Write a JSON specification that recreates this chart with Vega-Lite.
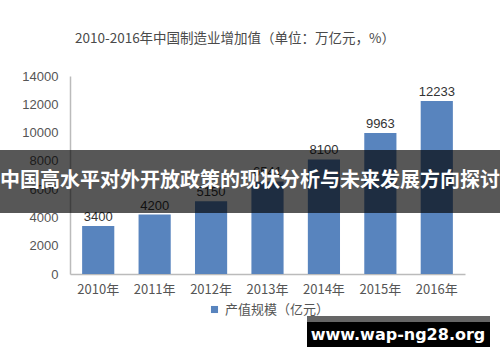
{
  "$schema": "https://vega.github.io/schema/vega-lite/v6.json",
  "width": 395,
  "height": 198,
  "autosize": {"type": "none"},
  "padding": {"left": 70, "top": 76, "right": 35, "bottom": 88},
  "background": "white",
  "config": {
    "view": {"stroke": null},
    "font": "Noto Sans CJK SC"
  },
  "title": {
    "text": "2010-2016年中国制造业增加值（单位：万亿元，%）",
    "anchor": "start",
    "frame": "group",
    "dx": 5,
    "offset": 25,
    "fontSize": 13.5,
    "fontWeight": "normal",
    "color": "#4a4a4a",
    "font": "Noto Sans CJK SC"
  },
  "resolve": {"scale": {"x": "independent", "y": "independent"}},
  "layer": [
    {
      "data": {
        "values": [
          {"year": "2010年", "value": 3400, "series": "产值规模（亿元）"},
          {"year": "2011年", "value": 4200, "series": "产值规模（亿元）"},
          {"year": "2012年", "value": 5150, "series": "产值规模（亿元）"},
          {"year": "2013年", "value": 6541, "series": "产值规模（亿元）"},
          {"year": "2014年", "value": 8100, "series": "产值规模（亿元）"},
          {"year": "2015年", "value": 9963, "series": "产值规模（亿元）"},
          {"year": "2016年", "value": 12233, "series": "产值规模（亿元）"}
        ]
      },
      "encoding": {
        "x": {
          "field": "year", "type": "nominal", "sort": null,
          "scale": {"paddingInner": 0.43, "paddingOuter": 0.215},
          "axis": {
            "title": null, "labelAngle": 0, "ticks": false,
            "domainColor": "#bbbbbb", "domainWidth": 1.5,
            "labelFontSize": 13, "labelColor": "#555555", "labelPadding": 9
          }
        },
        "y": {
          "field": "value", "type": "quantitative",
          "scale": {"domain": [0, 14000], "nice": false},
          "axis": {
            "title": null, "grid": false, "ticks": false,
            "values": [0, 2000, 4000, 6000, 8000, 10000, 12000, 14000],
            "format": "d",
            "domainColor": "#bbbbbb", "domainWidth": 1.5,
            "labelFontSize": 13, "labelColor": "#555555", "labelPadding": 12,
            "labelFont": "Liberation Sans"
          }
        }
      },
      "layer": [
        {
          "mark": {"type": "bar"},
          "encoding": {
            "color": {
              "field": "series", "type": "nominal",
              "scale": {"range": ["#5884be"]},
              "legend": {
                "title": null, "orient": "none", "legendX": 138, "legendY": 227,
                "symbolType": "square", "symbolSize": 50,
                "labelFontSize": 13, "labelColor": "#555555"
              }
            }
          }
        },
        {
          "mark": {"type": "text", "dy": -9, "fontSize": 13, "color": "#333333", "font": "Liberation Sans"},
          "encoding": {"text": {"field": "value", "type": "quantitative", "format": "d"}}
        }
      ]
    },
    {
      "data": {"values": [{"label": "banner"}]},
      "layer": [
        {
          "mark": {"type": "rect", "color": "#000000", "opacity": 0.66},
          "encoding": {
            "x": {"datum": 0, "type": "quantitative", "scale": {"domain": [0.14, 0.93], "nice": false, "zero": false}, "axis": null},
            "x2": {"datum": 1},
            "y": {"datum": 0.4116, "type": "quantitative", "scale": {"domain": [0.243094, 0.790055], "nice": false, "zero": false}, "axis": null},
            "y2": {"datum": 0.5856}
          }
        },
        {
          "mark": {"type": "text", "color": "white", "fontSize": 20, "fontWeight": "bold", "font": "Noto Sans CJK SC", "baseline": "middle", "align": "center"},
          "encoding": {
            "x": {"datum": 0.5, "type": "quantitative"},
            "y": {"datum": 0.5, "type": "quantitative"},
            "text": {"value": "中国高水平对外开放政策的现状分析与未来发展方向探讨"}
          }
        },
        {
          "mark": {"type": "rect", "color": "#666666"},
          "encoding": {
            "x": {"datum": 0.614, "type": "quantitative"},
            "x2": {"datum": 0.98},
            "y": {"datum": 0.1105, "type": "quantitative"},
            "y2": {"datum": 0.1271}
          }
        },
        {
          "mark": {"type": "rect", "color": "#000000"},
          "encoding": {
            "x": {"datum": 0.614, "type": "quantitative"},
            "x2": {"datum": 0.98},
            "y": {"datum": 0.0414, "type": "quantitative"},
            "y2": {"datum": 0.1105}
          }
        },
        {
          "mark": {"type": "text", "color": "white", "fontSize": 16, "fontWeight": "bold", "font": "DejaVu Sans", "baseline": "middle", "align": "center"},
          "encoding": {
            "x": {"datum": 0.796, "type": "quantitative"},
            "y": {"datum": 0.0746, "type": "quantitative"},
            "text": {"value": "www.wap-ng28.org"}
          }
        }
      ]
    }
  ]
}
